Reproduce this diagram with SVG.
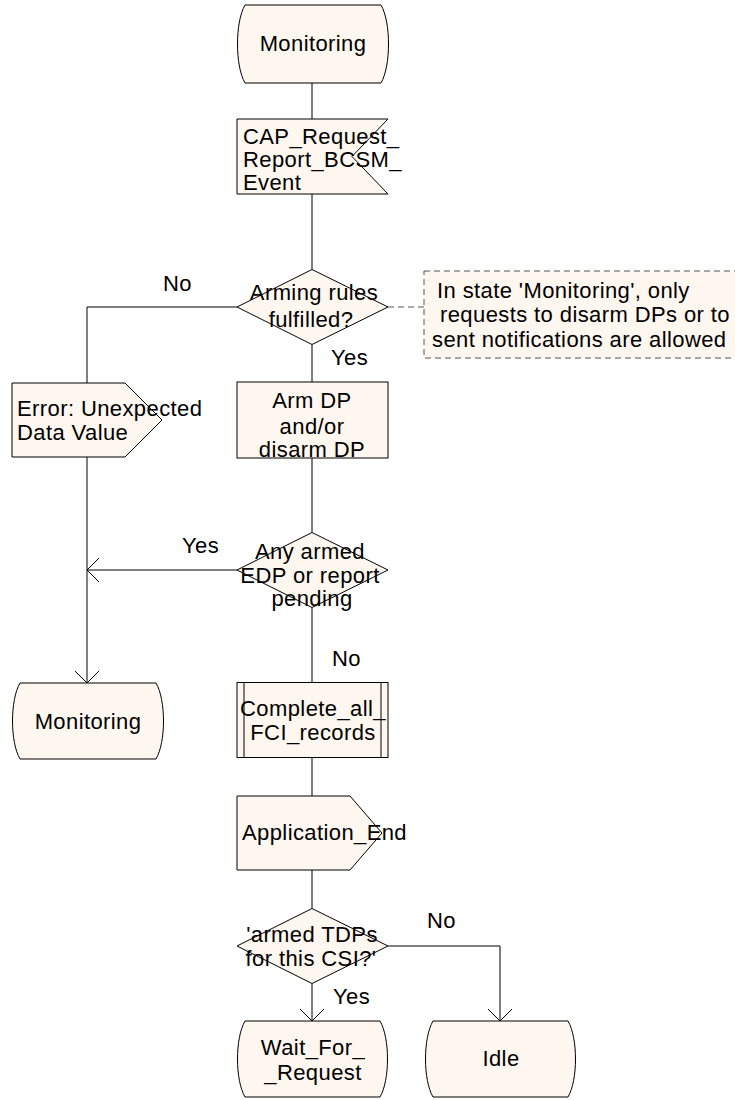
<svg xmlns="http://www.w3.org/2000/svg" width="735" height="1100" viewBox="0 0 735 1100">
<style>
.s{fill:#FDF7F0;stroke:#000;stroke-width:1}
.t{font-family:"Liberation Sans",Arial,sans-serif;font-size:22px;letter-spacing:0.4px;fill:#000}
.m{text-anchor:middle}
.c{fill:none;stroke:#000;stroke-width:1}
.d{fill:none;stroke:#555;stroke-width:1;stroke-dasharray:6 4}
</style>
<rect width="735" height="1100" fill="#fff"/>
<g id="connectors">
<path class="c" d="M312,83 V119 M312,194 V269.5 M237,307 H87 V383 M312,344.5 V382 M312,458 V532.5 M237,570 H87 M87,457 V683 M312,607.5 V683 M312,758 V796 M312,870 V908.5 M312,983.5 V1021 M388,946 H500 V1021"/>
<path class="c" d="M99,558 L87,570 L99,582 M75,671 L87,683 L99,671 M300,1009 L312,1021 L324,1009 M488,1009 L500,1021 L512,1009"/>
<path class="d" d="M388,307 H424"/>
</g>
<g id="monitoring_top">
<path class="s" d="M245,5 H381 C391,22 391,66 381,83 H245 C235,66 235,22 245,5 Z"/>
<text class="t m" x="313" y="51">Monitoring</text>
</g>
<g id="cap_request">
<polygon class="s" points="237,119 388,119 352,156.5 388,194 237,194"/>
<text class="t" x="243" y="144">CAP_Request_</text>
<text class="t" x="243" y="167">Report_BCSM_</text>
<text class="t" x="243" y="190">Event</text>
</g>
<g id="arming_rules">
<polygon class="s" points="237,307 312,269.5 388,307 312,344.5"/>
<text class="t m" x="314" y="300">Arming rules</text>
<text class="t m" x="311" y="327">fulfilled?</text>
</g>
<g id="comment">
<rect x="424" y="271" width="320" height="87" fill="#FDF7F0" stroke="#555" stroke-dasharray="6 4"/>
<text class="t" x="437" y="298">In state 'Monitoring', only</text>
<text class="t" x="440" y="322">requests to disarm DPs or to</text>
<text class="t" x="432" y="347">sent notifications are allowed</text>
</g>
<g id="error">
<polygon class="s" points="12,383 125,383 162,420 125,457 12,457"/>
<text class="t" x="17" y="416">Error: Unexpected</text>
<text class="t" x="17" y="440">Data Value</text>
</g>
<g id="arm_dp">
<rect class="s" x="237" y="382" width="151" height="76"/>
<text class="t m" x="312" y="408">Arm DP</text>
<text class="t m" x="312" y="434">and/or</text>
<text class="t m" x="312" y="457">disarm DP</text>
</g>
<g id="any_armed">
<polygon class="s" points="237,570 312,532.5 388,570 312,607.5"/>
<text class="t m" x="310" y="559">Any armed</text>
<text class="t m" x="310" y="583">EDP or report</text>
<text class="t m" x="312" y="606">pending</text>
</g>
<g id="monitoring_left">
<path class="s" d="M20,683 H156 C166,700 166,742 156,759 H20 C10,742 10,700 20,683 Z"/>
<text class="t m" x="88" y="729">Monitoring</text>
</g>
<g id="complete_fci">
<rect class="s" x="237" y="682.5" width="151" height="75"/>
<path class="c" d="M244,682.5 V757.5 M381,682.5 V757.5"/>
<text class="t m" x="313" y="716">Complete_all_</text>
<text class="t m" x="313" y="740">FCI_records</text>
</g>
<g id="application_end">
<polygon class="s" points="237,796 350,796 382,833 350,870 237,870"/>
<text class="t" x="242" y="840">Application_End</text>
</g>
<g id="armed_tdps">
<polygon class="s" points="237,946 312,908.5 388,946 312,983.5"/>
<text class="t m" x="312" y="942">'armed TDPs</text>
<text class="t m" x="311" y="966">for this CSI?'</text>
</g>
<g id="wait_for_request">
<path class="s" d="M245,1021 H380 C390,1038 390,1080 380,1097 H245 C235,1080 235,1038 245,1021 Z"/>
<text class="t m" x="313" y="1055">Wait_For_</text>
<text class="t m" x="313" y="1080">_Request</text>
</g>
<g id="idle">
<path class="s" d="M433,1021 H568 C578,1038 578,1080 568,1097 H433 C423,1080 423,1038 433,1021 Z"/>
<text class="t m" x="501" y="1066">Idle</text>
</g>
<g id="labels">
<text class="t" x="163" y="291">No</text>
<text class="t" x="331" y="365">Yes</text>
<text class="t" x="182" y="553">Yes</text>
<text class="t" x="332" y="666">No</text>
<text class="t" x="427" y="928">No</text>
<text class="t" x="333" y="1004">Yes</text>
</g>
</svg>
